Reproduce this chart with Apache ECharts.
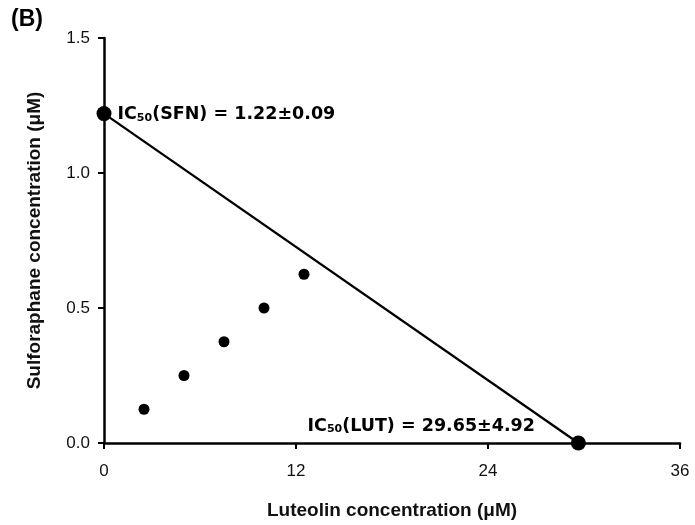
<!DOCTYPE html>
<html>
<head>
<meta charset="utf-8">
<script src="https://cdn.jsdelivr.net/npm/echarts@6/dist/echarts.min.js"></script>
<style>
  html, body { margin: 0; padding: 0; background: #fff; }
  #main { width: 695px; height: 525px; }
</style>
</head>
<body>
<div id="main"></div>
<script>
// 数据
var xTicks = [0, 12, 24, 36];
var yTicks = [0, 0.5, 1.0, 1.5];
var lutDose = [2.5, 5, 7.5, 10, 12.5];      // 木犀草素浓度
var sfnDose = [0.125, 0.25, 0.375, 0.5, 0.625]; // 萝卜硫素浓度
var ic50Sfn = 1.22;
var ic50Lut = 29.65;

var chart = echarts.init(document.getElementById('main'));

var rich = {
  a: { fontFamily: 'DejaVu Sans', fontWeight: 'bold', fontSize: 17.5, color: '#000' },
  s: { fontFamily: 'DejaVu Sans', fontWeight: 'bold', fontSize: 11, color: '#000', verticalAlign: 'bottom', padding: [7, 0, 0, 0] }
};

var option = {
  animation: false,
  backgroundColor: '#fff',
  graphic: [{
    type: 'text', left: 11, top: 8,
    style: { text: '(B)', font: 'bold 23px "Liberation Sans"', fill: '#000' }
  }],
  grid: { left: 104, right: 15, top: 38, bottom: 82 },
  xAxis: {
    type: 'value', min: 0, max: 36, interval: 12,
    name: 'Luteolin concentration (μM)',
    nameLocation: 'middle', nameGap: 58,
    nameTextStyle: { fontFamily: 'Liberation Sans', fontWeight: 'bold', fontSize: 19, color: '#111' },
    axisLine: { lineStyle: { color: '#000', width: 2.5 } },
    axisTick: { show: true, length: 6, lineStyle: { color: '#000', width: 2 } },
    axisLabel: { fontFamily: 'Liberation Sans', fontSize: 17, color: '#111', margin: 20 },
    splitLine: { show: false }
  },
  yAxis: {
    type: 'value', min: 0, max: 1.5, interval: 0.5,
    name: 'Sulforaphane concentration (μM)',
    nameLocation: 'middle', nameGap: 60,
    nameTextStyle: { fontFamily: 'Liberation Sans', fontWeight: 'bold', fontSize: 19, color: '#111' },
    axisLine: { show: true, lineStyle: { color: '#000', width: 2.5 } },
    axisTick: { show: true, length: 6, lineStyle: { color: '#000', width: 2 } },
    axisLabel: {
      fontFamily: 'Liberation Sans', fontSize: 17, color: '#111', margin: 14,
      formatter: function (v) { return v.toFixed(1); }
    },
    splitLine: { show: false }
  },
  series: [
    {
      type: 'line',
      data: [
        {
          value: [0, ic50Sfn],
          label: {
            show: true, position: 'right', distance: 6, offset: [0, 1],
            formatter: '{a|IC}{s|50}{a|(SFN) = 1.22±0.09}', rich: rich
          }
        },
        {
          value: [ic50Lut, 0],
          label: {
            show: true, position: 'left', distance: 0, offset: [-36, -17],
            formatter: '{a|IC}{s|50}{a|(LUT) = 29.65±4.92}', rich: rich
          }
        }
      ],
      symbol: 'circle', symbolSize: 15,
      itemStyle: { color: '#000' },
      lineStyle: { color: '#000', width: 2.3 },
      z: 3
    },
    {
      type: 'scatter',
      data: lutDose.map(function (x, i) { return [x, sfnDose[i]]; }),
      symbol: 'circle', symbolSize: 11,
      itemStyle: { color: '#000', opacity: 1 }
    }
  ]
};

chart.setOption(option);
</script>
</body>
</html>
